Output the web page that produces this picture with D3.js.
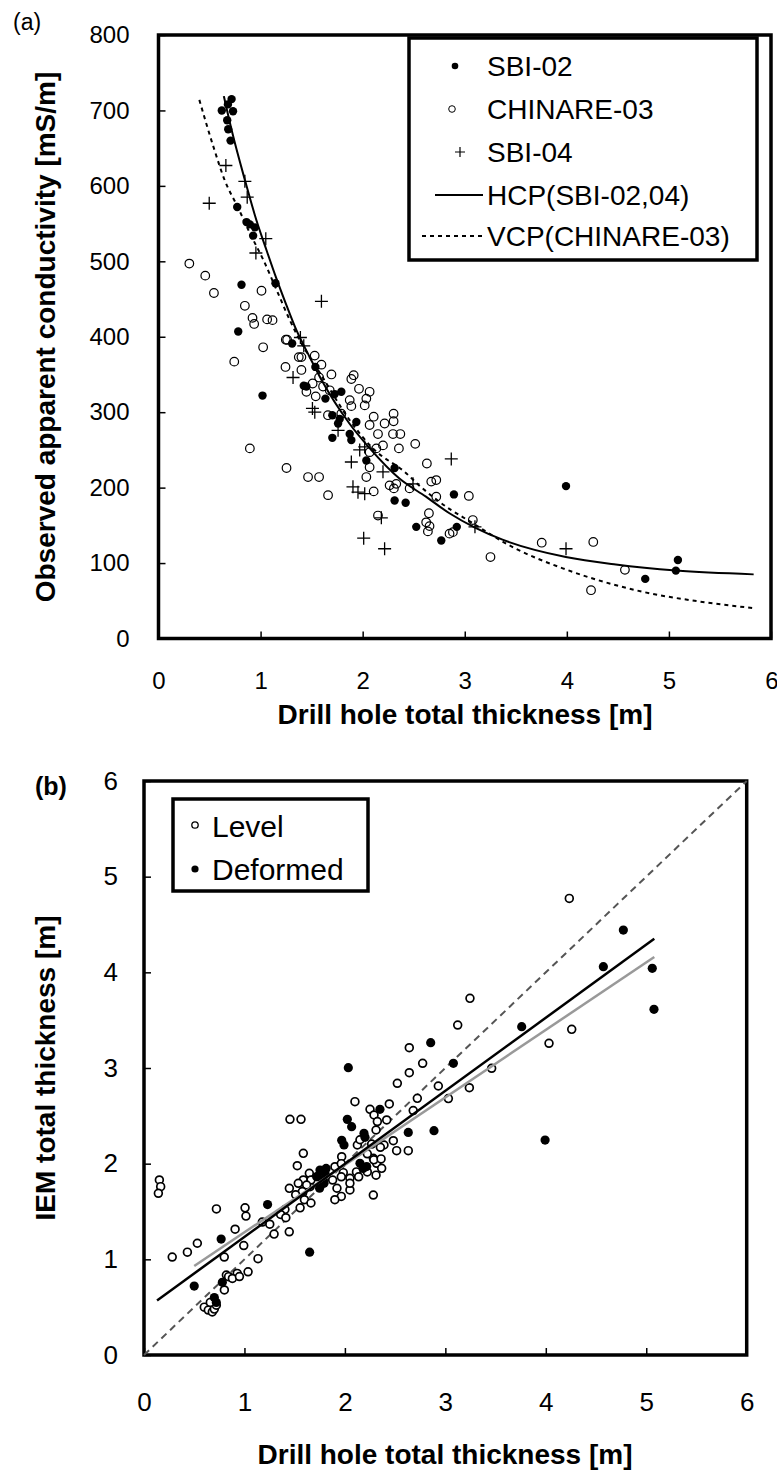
<!DOCTYPE html>
<html><head><meta charset="utf-8">
<script src="https://cdn.jsdelivr.net/npm/d3@7"></script>
<style>body{margin:0;background:#fff}svg{display:block}text{font-family:"Liberation Sans",Arial,sans-serif;fill:#000}</style>
</head><body>
<svg id="c" width="777" height="1474"></svg>
<script>
// ---------- Panel (a) data ----------
const xTicksA = [0,1,2,3,4,5,6];
const yTicksA = [0,100,200,300,400,500,600,700,800];
const sbi02 = [[0.716,715],[0.68,708],[0.62,700],[0.73,699],[0.673,687],[0.683,675],[0.706,660],[0.771,572],[0.862,552],[0.895,549],[0.944,545],[0.927,534],[1.146,471],[0.813,469],[0.781,407],[1.309,391],[1.537,360],[1.726,324],[1.791,327],[1.703,296],[1.775,291],[1.759,285],[1.938,287],[1.703,266],[1.873,271],[1.889,263],[2.036,236],[2.313,226],[2.313,183],[2.421,180],[2.525,148],[1.019,322],[1.423,335],[1.449,334],[1.635,318],[2.894,191],[2.922,148],[2.77,130],[3.992,202],[4.768,79],[5.068,90],[5.088,104]];
const chinare03 = [[0.302,497],[0.458,481],[0.543,458],[1.009,461],[0.846,441],[0.921,425],[0.937,417],[1.064,423],[1.117,422],[1.247,396],[1.26,396],[1.025,386],[0.742,367],[1.374,373],[1.40,373],[1.53,375],[1.244,360],[1.40,356],[1.596,363],[1.694,350],[1.912,349],[0.895,252],[1.254,226],[1.465,214],[1.573,214],[1.661,190],[1.677,329],[1.449,327],[1.54,321],[1.612,334],[1.889,344],[1.964,331],[2.068,327],[2.036,318],[2.02,309],[1.873,316],[1.889,308],[1.66,296],[1.791,298],[2.108,294],[2.068,283],[2.215,285],[2.303,298],[2.303,288],[2.15,271],[2.297,271],[2.369,271],[2.068,247],[2.134,252],[2.199,256],[2.355,252],[2.515,258],[2.068,227],[2.036,214],[2.629,232],[2.108,195],[2.264,203],[2.329,205],[2.306,199],[2.46,199],[2.672,208],[2.721,210],[2.721,188],[2.15,163],[2.649,166],[2.622,154],[2.655,149],[1.573,346],[1.51,338],[3.04,189],[2.639,142],[2.851,139],[2.884,141],[3.079,157],[3.252,108],[3.754,127],[4.259,128],[4.569,91],[4.237,64]];
const sbi04 = [[0.66,627],[0.846,606],[0.869,585],[0.497,577],[1.051,530],[0.954,511],[1.596,447],[1.39,399],[1.423,388],[1.318,346],[1.508,305],[1.531,300],[1.759,276],[1.971,250],[2.02,254],[1.889,234],[2.199,221],[1.905,201],[1.954,194],[2.02,192],[2.493,205],[2.183,160],[2.868,238],[3.1,148],[3.992,119],[2.01,133],[2.215,119]];
const hcpCurve = [[0.64,719],[0.72,672],[0.85,606],[0.96,554],[1.06,514],[1.15,479],[1.25,443],[1.35,409],[1.47,376],[1.6,342],[1.87,285],[2.07,252],[2.36,212],[2.62,188],[2.85,166],[3.1,147],[3.37,131],[3.99,108],[4.48,98],[5.07,90],[5.83,85]];
const vcpCurve = [[0.4,714],[0.54,651],[0.65,607],[0.78,571],[0.9,536],[1.03,501],[1.16,461],[1.29,421],[1.37,399],[1.6,348],[1.87,290],[2.1,252],[2.41,221],[2.57,201],[2.87,170],[2.98,161],[3.5,119],[3.96,93],[4.29,78],[4.74,62],[5.3,49],[5.85,40]];
const legendA = ["SBI-02","CHINARE-03","SBI-04","HCP(SBI-02,04)","VCP(CHINARE-03)"];

// ---------- Panel (b) data ----------
const xTicksB = [0,1,2,3,4,5,6];
const yTicksB = [0,1,2,3,4,5,6];
const level = [[2.641,3.212],[2.774,3.049],[2.641,2.951],[2.522,2.84],[2.93,2.812],[2.721,2.683],[2.10,2.648],[2.442,2.624],[2.25,2.568],[2.29,2.509],[2.68,2.555],[1.453,2.463],[1.563,2.463],[2.323,2.44],[2.416,2.457],[2.31,2.352],[2.482,2.24],[2.389,2.195],[2.515,2.136],[2.631,2.136],[1.968,2.073],[2.124,2.195],[2.15,2.25],[2.283,2.056],[2.316,2.004],[2.366,1.951],[1.586,2.108],[1.526,1.979],[1.901,1.968],[1.984,1.906],[2.05,1.847],[2.283,1.672],[2.05,1.725],[1.646,1.899],[1.586,1.83],[1.653,1.76],[1.447,1.742],[1.536,1.795],[1.58,1.697],[0.153,1.83],[0.166,1.76],[0.143,1.69],[2.266,2.205],[2.353,2.171],[2.223,2.103],[2.288,2.04],[2.36,2.05],[2.31,1.88],[1.964,2.0],[1.662,1.829],[1.619,1.777],[1.576,1.709],[1.597,1.623],[1.662,1.589],[1.51,1.675],[1.554,1.538],[1.878,1.829],[1.921,1.743],[1.964,1.658],[1.9,1.623],[2.05,1.795],[1.964,1.863],[2.115,1.914],[2.137,1.863],[2.223,1.914],[1.403,1.521],[1.36,1.469],[1.412,1.435],[1.446,1.288],[1.295,1.264],[1.252,1.367],[1.178,1.39],[1.006,1.538],[1.015,1.452],[0.721,1.527],[0.907,1.315],[0.993,1.144],[1.135,1.007],[0.531,1.168],[0.432,1.075],[0.281,1.024],[0.799,1.024],[0.82,0.836],[0.928,0.853],[1.036,0.87],[0.842,0.819],[4.234,4.773],[3.245,3.728],[3.123,3.449],[4.258,3.404],[4.032,3.258],[3.461,2.997],[3.239,2.794],[3.03,2.68],[0.6,0.5],[0.64,0.47],[0.68,0.45],[0.7,0.48],[0.72,0.52],[0.66,0.55],[0.8,0.68],[0.88,0.8],[0.95,0.82]];
const deformed = [[2.854,3.265],[2.034,3.003],[2.349,2.568],[2.024,2.463],[2.067,2.387],[2.631,2.327],[2.887,2.345],[2.19,2.317],[2.2,2.275],[1.991,2.195],[1.968,2.245],[2.15,2.004],[2.217,1.97],[2.18,1.95],[1.752,1.934],[1.802,1.899],[1.719,1.864],[1.785,1.83],[3.993,2.247],[1.813,1.95],[1.727,1.863],[1.792,1.795],[1.748,1.743],[1.23,1.572],[1.649,1.075],[0.768,1.212],[4.772,4.442],[4.573,4.059],[5.06,4.042],[5.077,3.613],[3.76,3.432],[3.08,3.049],[0.5,0.72],[0.7,0.6],[0.72,0.55],[0.78,0.76]];
const oneToOne = [[0,0],[6,6]];
const fitBlack = [[0.13,0.57],[5.08,4.35]];
const fitGray = [[0.5,0.93],[5.08,4.16]];
const legendB = ["Level","Deformed"];

const svg = d3.select("#c");
const FONT = '"Liberation Sans",Arial,sans-serif';

function frame(g, xs, ys, xt, yt, padX, padY, fs){
  const [x0,x1]=xs.range(), [y0,y1]=ys.range();
  const ax = g.append("g").attr("transform",`translate(0,${y0})`)
    .call(d3.axisBottom(xs).tickValues(xt).tickSize(-7).tickPadding(padX).tickFormat(d3.format("d")));
  const ay = g.append("g").attr("transform",`translate(${x0},0)`)
    .call(d3.axisLeft(ys).tickValues(yt).tickSize(-7).tickPadding(padY).tickFormat(d3.format("d")));
  [ax,ay].forEach(a=>{
    a.select(".domain").remove();
    a.selectAll(".tick line").attr("stroke","#000").attr("stroke-width",1.5);
    a.selectAll(".tick text").attr("font-size",fs).attr("font-family",FONT).attr("fill","#000");
  });
  g.append("rect").attr("x",x0).attr("y",y1).attr("width",x1-x0).attr("height",y0-y1)
    .attr("fill","none").attr("stroke","#000").attr("stroke-width",3.5);
  return ax;
}

// ---------- Panel (a) ----------
const xA = d3.scaleLinear().domain([0,6]).range([158.5,771]);
const yA = d3.scaleLinear().domain([0,800]).range([638.5,35]);
const gA = svg.append("g");
const axA = frame(gA, xA, yA, xTicksA, yTicksA, 33, 29, 24);
axA.selectAll(".tick text").filter(d=>d===6).attr("text-anchor","end").attr("dx",7);
const lineA = d3.line().x(d=>xA(d[0])).y(d=>yA(d[1])).curve(d3.curveMonotoneX);
const plus = "M-6.5,0H6.5M0,-6.5V6.5";
gA.selectAll(".c3").data(chinare03).join("circle").attr("cx",d=>xA(d[0])).attr("cy",d=>yA(d[1])).attr("r",4.3)
  .attr("fill","none").attr("stroke","#000").attr("stroke-width",1.2);
gA.selectAll(".s4").data(sbi04).join("path").attr("d",plus).attr("transform",d=>`translate(${xA(d[0])},${yA(d[1])})`)
  .attr("stroke","#000").attr("stroke-width",1.3).attr("fill","none");
gA.selectAll(".s2").data(sbi02).join("circle").attr("cx",d=>xA(d[0])).attr("cy",d=>yA(d[1])).attr("r",4.2).attr("fill","#000");
gA.append("path").datum(hcpCurve).attr("d",lineA).attr("fill","none").attr("stroke","#000").attr("stroke-width",2);
gA.append("path").datum(vcpCurve).attr("d",lineA).attr("fill","none").attr("stroke","#000").attr("stroke-width",2).attr("stroke-dasharray","4,4");

// legend (a)
const legA = gA.append("g");
legA.append("rect").attr("x",409).attr("y",38).attr("width",348).attr("height",222).attr("fill","#fff").attr("stroke","#000").attr("stroke-width",3.5);
const rowsA = [66,109,152,195,236];
legendA.forEach((t,i)=>{
  legA.append("text").attr("x",487).attr("y",rowsA[i]).attr("dominant-baseline","central").attr("font-size",28).text(t);
});
legA.append("circle").attr("cx",455).attr("cy",rowsA[0]).attr("r",3.3).attr("fill","#000");
legA.append("circle").attr("cx",452).attr("cy",rowsA[1]).attr("r",3.3).attr("fill","none").attr("stroke","#000").attr("stroke-width",1);
legA.append("path").attr("d","M-5,0H5M0,-5V5").attr("transform",`translate(460,${rowsA[2]})`).attr("stroke","#000").attr("stroke-width",1.2);
legA.append("line").attr("x1",435).attr("x2",483).attr("y1",rowsA[3]).attr("y2",rowsA[3]).attr("stroke","#000").attr("stroke-width",2);
legA.append("line").attr("x1",422).attr("x2",483).attr("y1",rowsA[4]).attr("y2",rowsA[4]).attr("stroke","#000").attr("stroke-width",2).attr("stroke-dasharray","4,4");

svg.append("text").attr("x",13).attr("y",30).attr("font-size",23).text("(a)");
svg.append("text").attr("transform","translate(55,337) rotate(-90)").attr("text-anchor","middle")
  .attr("font-size",28).attr("font-weight","bold").text("Observed apparent conductivity [mS/m]");
svg.append("text").attr("x",465).attr("y",724).attr("text-anchor","middle")
  .attr("font-size",28).attr("font-weight","bold").text("Drill hole total thickness [m]");

// ---------- Panel (b) ----------
const xB = d3.scaleLinear().domain([0,6]).range([144,746.7]);
const yB = d3.scaleLinear().domain([0,6]).range([1355,781]);
const gB = svg.append("g");
frame(gB, xB, yB, xTicksB, yTicksB, 38, 26, 26);
const lineB = d3.line().x(d=>xB(d[0])).y(d=>yB(d[1]));
gB.append("path").datum(oneToOne).attr("d",lineB).attr("stroke","#555").attr("stroke-width",2).attr("stroke-dasharray","7,5").attr("fill","none");
gB.selectAll(".lv").data(level).join("circle").attr("cx",d=>xB(d[0])).attr("cy",d=>yB(d[1])).attr("r",3.9)
  .attr("fill","#fff").attr("stroke","#000").attr("stroke-width",1.7);
gB.selectAll(".df").data(deformed).join("circle").attr("cx",d=>xB(d[0])).attr("cy",d=>yB(d[1])).attr("r",4.6).attr("fill","#000");
gB.append("path").datum(fitGray).attr("d",lineB).attr("stroke","#999").attr("stroke-width",2.5).attr("fill","none");
gB.append("path").datum(fitBlack).attr("d",lineB).attr("stroke","#000").attr("stroke-width",2.5).attr("fill","none");

const legB = gB.append("g");
legB.append("rect").attr("x",173).attr("y",799).attr("width",195).attr("height",92).attr("fill","#fff").attr("stroke","#000").attr("stroke-width",3.5);
legB.append("circle").attr("cx",195).attr("cy",825).attr("r",3.2).attr("fill","#fff").attr("stroke","#000").attr("stroke-width",1.3);
legB.append("circle").attr("cx",195).attr("cy",869).attr("r",3.6).attr("fill","#000");
legendB.forEach((t,i)=>{
  legB.append("text").attr("x",212).attr("y",[826,869][i]).attr("dominant-baseline","central").attr("font-size",30).text(t);
});
svg.append("text").attr("x",35).attr("y",795).attr("font-size",25).attr("font-weight","bold").text("(b)");
svg.append("text").attr("transform","translate(55,1068) rotate(-90)").attr("text-anchor","middle")
  .attr("font-size",28).attr("font-weight","bold").text("IEM total thickness [m]");
svg.append("text").attr("x",445).attr("y",1464).attr("text-anchor","middle")
  .attr("font-size",28).attr("font-weight","bold").text("Drill hole total thickness [m]");
</script>
</body></html>
